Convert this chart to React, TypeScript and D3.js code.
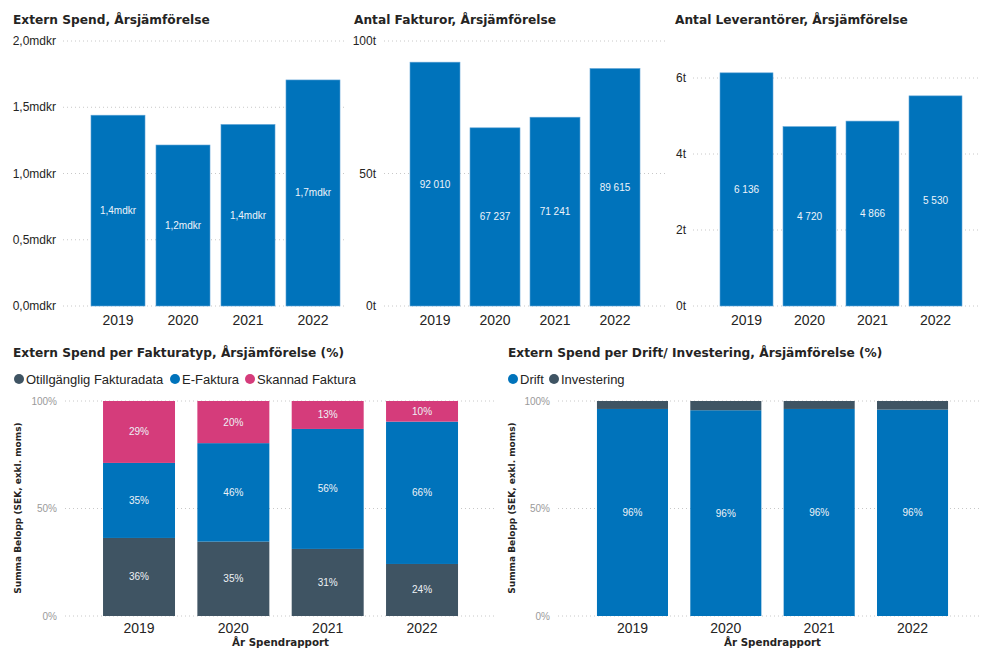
import React from "react";
import * as d3 from "d3";

const years = ["2019", "2020", "2021", "2022"];

// Top charts
const spendMdkr = [1.44, 1.215, 1.37, 1.706];
const spendTicks = [0, 0.5, 1.0, 1.5, 2.0];
const fakturor = [92010, 67237, 71241, 89615];
const fakturorTicks = [0, 50000, 100000];
const leverantorer = [6136, 4720, 4866, 5530];
const leverantorerTicks = [0, 2000, 4000, 6000];

// Bottom-left: share per invoice type (%)
const fakturatypSeries = ["Otillgänglig Fakturadata", "E-Faktura", "Skannad Faktura"];
const otillganglig = [36.3, 34.6, 31.2, 24.2];
const eFaktura = [34.9, 45.8, 55.8, 66.2];
const skannad = [28.8, 19.6, 13.0, 9.6];

// Bottom-right: Drift / Investering (%)
const driftSeries = ["Drift", "Investering"];
const drift = [96.3, 95.7, 96.3, 96.0];
const investering = [3.7, 4.3, 3.7, 4.0];

const pctTicks = [0, 50, 100];

const BLUE = "#0073BB";
const DARK = "#3F5463";
const PINK = "#D53C7B";
const TEXT = "#252423";
const GRID = "#c8c8c8";
const TITLE_FONT = "'DejaVu Sans', sans-serif";
const FONT = "'Liberation Sans', Arial, sans-serif";

const comma = (s: string) => s.replace(".", ",");

function band(x0: number, x1: number, pad: number) {
  return d3.scaleBand<string>().domain(years).range([x0, x1]).paddingInner(pad).paddingOuter(pad / 2);
}

type SimpleProps = {
  title: string;
  titleX: number;
  values: number[];
  ticks: number[];
  max: number;
  tickFmt: (v: number) => string;
  labelFmt: (v: number) => string;
  tickRight: number;
  gridX0: number;
  gridX1: number;
  bandX0: number;
  bandX1: number;
  pad: number;
};

function SimpleBar(p: SimpleProps) {
  const y = d3.scaleLinear().domain([0, p.max]).range([306, 41]);
  const x = band(p.bandX0, p.bandX1, p.pad);
  return (
    <g>
      <text x={p.titleX} y={24} fontFamily={TITLE_FONT} fontWeight="bold" fontSize={12.2} fill={TEXT}>
        {p.title}
      </text>
      {p.ticks.map((t) => (
        <g key={t}>
          <line x1={p.gridX0} x2={p.gridX1} y1={y(t)} y2={y(t)} stroke={GRID} strokeDasharray="1 3" />
          <text x={p.tickRight} y={y(t) + 4} textAnchor="end" fontFamily={FONT} fontSize={12} fill={TEXT}>
            {p.tickFmt(t)}
          </text>
        </g>
      ))}
      {years.map((yr, i) => (
        <g key={yr}>
          <rect
            x={x(yr)}
            y={y(p.values[i])}
            width={x.bandwidth()}
            height={306 - y(p.values[i])}
            fill={BLUE}
            stroke="#5ea3d6"
            strokeWidth={0.6}
          />
          <text
            x={(x(yr) as number) + x.bandwidth() / 2}
            y={(y(p.values[i]) + 306) / 2 + 3.5}
            textAnchor="middle"
            fontFamily={FONT}
            fontSize={10}
            fill="#eef4fa"
          >
            {p.labelFmt(p.values[i])}
          </text>
          <text
            x={(x(yr) as number) + x.bandwidth() / 2}
            y={325}
            textAnchor="middle"
            fontFamily={FONT}
            fontSize={14}
            fill={TEXT}
          >
            {yr}
          </text>
        </g>
      ))}
    </g>
  );
}

type StackProps = {
  title: string;
  titleX: number;
  series: string[];
  colors: string[];
  data: number[][];
  labelSeries: boolean[];
  legendX: number[];
  tickRight: number;
  gridX0: number;
  gridX1: number;
  bandX0: number;
  bandX1: number;
  pad: number;
  yTitleX: number;
};

function StackBar(p: StackProps) {
  const y = d3.scaleLinear().domain([0, 100]).range([616, 401]);
  const x = band(p.bandX0, p.bandX1, p.pad);
  const rows = years.map((yr, i) => {
    const r: any = { year: yr };
    p.series.forEach((s, k) => (r[s] = p.data[k][i]));
    return r;
  });
  const stacked = d3.stack<any>().keys(p.series)(rows);
  const cx = (x.range()[0] + x.range()[1]) / 2;
  return (
    <g>
      <text x={p.titleX} y={357} fontFamily={TITLE_FONT} fontWeight="bold" fontSize={12.2} fill={TEXT}>
        {p.title}
      </text>
      {p.series.map((s, k) => (
        <g key={s}>
          <circle cx={p.legendX[k]} cy={379} r={5} fill={p.colors[k]} />
          <text x={p.legendX[k] + 7} y={383.5} fontFamily={FONT} fontSize={13} fill={TEXT}>
            {s}
          </text>
        </g>
      ))}
      {pctTicks.map((t) => (
        <g key={t}>
          <line x1={p.gridX0} x2={p.gridX1} y1={y(t)} y2={y(t)} stroke={GRID} strokeDasharray="1 3" />
          <text x={p.tickRight} y={y(t) + 3.5} textAnchor="end" fontFamily={FONT} fontSize={10} fill="#9a9a9a">
            {t + "%"}
          </text>
        </g>
      ))}
      <text
        transform={`translate(${p.yTitleX},508) rotate(-90)`}
        textAnchor="middle"
        fontFamily={TITLE_FONT}
        fontWeight="bold"
        fontSize={9}
        fill={TEXT}
      >
        Summa Belopp (SEK, exkl. moms)
      </text>
      {stacked.map((layer, k) => (
        <g key={p.series[k]}>
          {layer.map((d, i) => (
            <g key={years[i]}>
              <rect
                x={x(years[i])}
                y={y(d[1])}
                width={x.bandwidth()}
                height={y(d[0]) - y(d[1])}
                fill={p.colors[k]}
              />
              {p.labelSeries[k] && (
                <text
                  x={(x(years[i]) as number) + x.bandwidth() / 2}
                  y={(y(d[0]) + y(d[1])) / 2 + 3.5}
                  textAnchor="middle"
                  fontFamily={FONT}
                  fontSize={10}
                  fill="#eef2f6"
                >
                  {Math.round(d[1] - d[0]) + "%"}
                </text>
              )}
            </g>
          ))}
        </g>
      ))}
      {years.map((yr) => (
        <text
          key={yr}
          x={(x(yr) as number) + x.bandwidth() / 2}
          y={633}
          textAnchor="middle"
          fontFamily={FONT}
          fontSize={14}
          fill={TEXT}
        >
          {yr}
        </text>
      ))}
      <text x={cx} y={646} textAnchor="middle" fontFamily={TITLE_FONT} fontWeight="bold" fontSize={10.3} fill={TEXT}>
        År Spendrapport
      </text>
    </g>
  );
}

export default function App() {
  const fmtSpace = (v: number) => d3.format(",")(v).replace(/,/g, " ");
  return (
    <svg
      width={981}
      height={651}
      style={{ position: "absolute", left: 0, top: 0, background: "#fff" }}
    >
      <rect width={981} height={651} fill="#fff" />
      <SimpleBar
        title="Extern Spend, Årsjämförelse"
        titleX={13}
        values={spendMdkr}
        ticks={spendTicks}
        max={2}
        tickFmt={(v) => comma(v.toFixed(1)) + "mdkr"}
        labelFmt={(v) => comma(v.toFixed(1)) + "mdkr"}
        tickRight={56}
        gridX0={63}
        gridX1={345}
        bandX0={85.5}
        bandX1={345.5}
        pad={0.169}
      />
      <SimpleBar
        title="Antal Fakturor, Årsjämförelse"
        titleX={354}
        values={fakturor}
        ticks={fakturorTicks}
        max={100000}
        tickFmt={(v) => v / 1000 + "t"}
        labelFmt={fmtSpace}
        tickRight={376}
        gridX0={384}
        gridX1={667}
        bandX0={405}
        bandX1={645}
        pad={0.167}
      />
      <SimpleBar
        title="Antal Leverantörer, Årsjämförelse"
        titleX={675}
        values={leverantorer}
        ticks={leverantorerTicks}
        max={6974}
        tickFmt={(v) => v / 1000 + "t"}
        labelFmt={fmtSpace}
        tickRight={686}
        gridX0={693}
        gridX1={980}
        bandX0={715}
        bandX1={967}
        pad={0.159}
      />
      <StackBar
        title="Extern Spend per Fakturatyp, Årsjämförelse (%)"
        titleX={13}
        series={fakturatypSeries}
        colors={[DARK, BLUE, PINK]}
        data={[otillganglig, eFaktura, skannad]}
        labelSeries={[true, true, true]}
        legendX={[19, 175, 250]}
        tickRight={57}
        gridX0={65}
        gridX1={497}
        bandX0={91.85}
        bandX1={469.2}
        pad={0.237}
        yTitleX={21}
      />
      <StackBar
        title="Extern Spend per Drift/ Investering, Årsjämförelse (%)"
        titleX={508}
        series={driftSeries}
        colors={[BLUE, DARK]}
        data={[drift, investering]}
        labelSeries={[true, false]}
        legendX={[513, 554]}
        tickRight={550}
        gridX0={558}
        gridX1={980}
        bandX0={585.8}
        bandX1={959.2}
        pad={0.239}
        yTitleX={515}
      />
    </svg>
  );
}
